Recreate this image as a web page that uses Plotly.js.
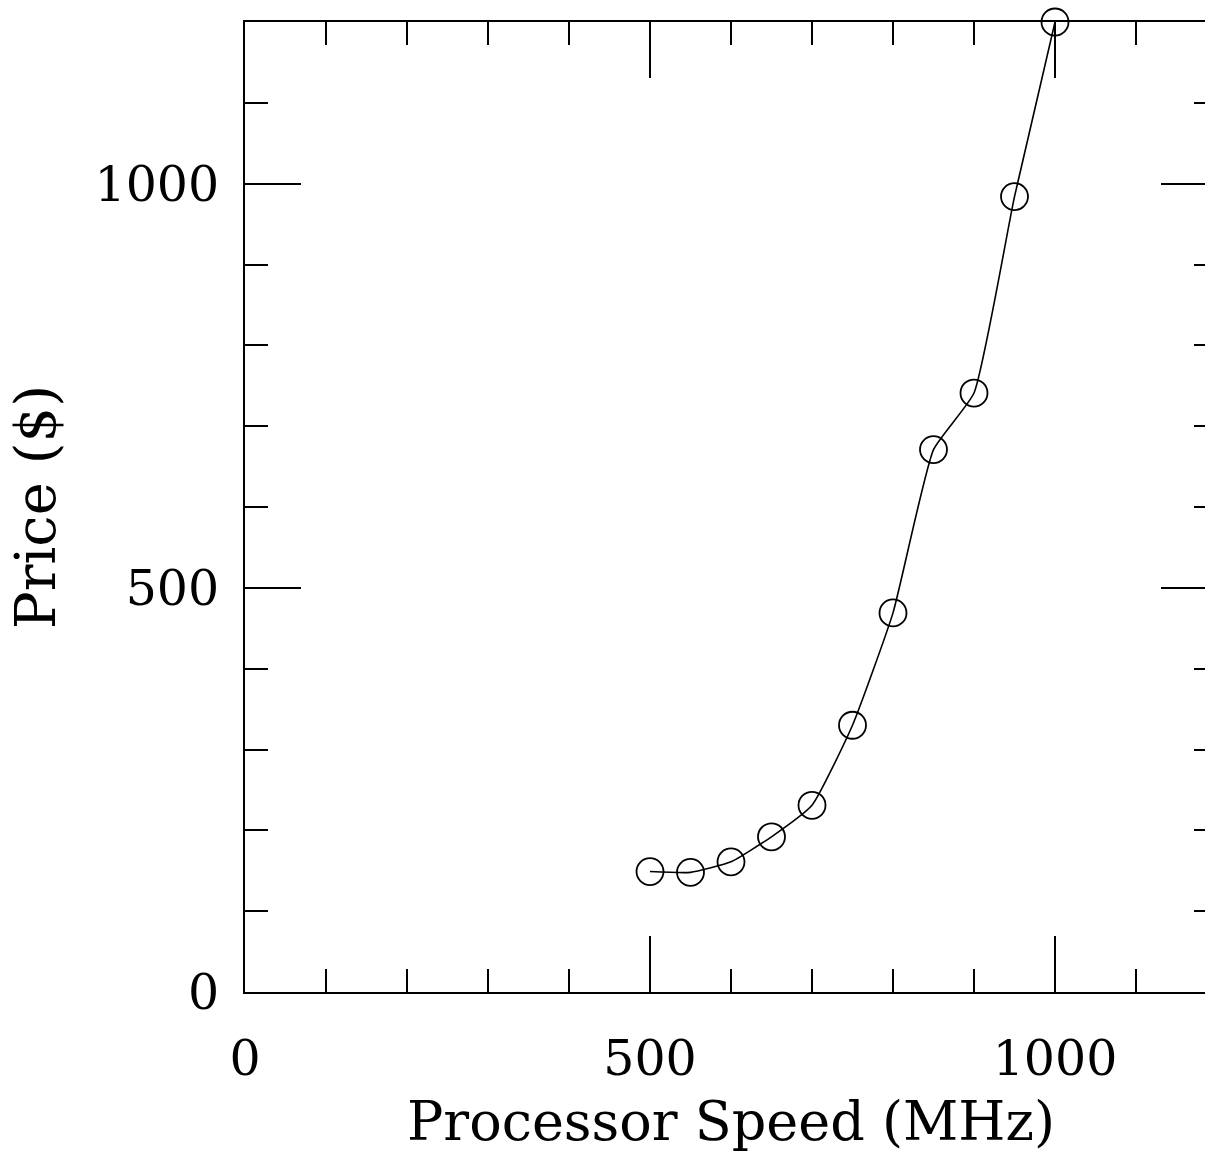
<!DOCTYPE html>
<html>
<head>
<meta charset="utf-8">
<script src="https://cdn.plot.ly/plotly-3.0.1.min.js"></script>
<style>
  html, body { margin: 0; padding: 0; overflow: hidden; background: #fff; }
  #chart { width: 1232px; height: 1153px; }
</style>
</head>
<body>
<div id="chart"></div>
<script>
// Processor speed (MHz) and price ($)
const speedMHz = [500, 550, 600, 650, 700, 750, 800, 850, 900, 950, 1000];
const priceUSD = [149, 148, 161, 192, 231, 330, 469, 671, 741, 984, 1200];

const xTickVals = [0, 500, 1000];
const xTickText = ['0', '500', '1000'];
const yTickVals = [0, 500, 1000];
const yTickText = ['0', '500', '1000'];

const FONT = 'DejaVu Serif, Liberation Serif, serif';

const trace = {
  x: speedMHz,
  y: priceUSD,
  type: 'scatter',
  mode: 'lines+markers',
  line: { color: '#000', width: 1.6, shape: 'spline', smoothing: 0.45 },
  marker: { symbol: 'circle-open', size: 27, color: '#000', line: { color: '#000', width: 1.8 } },
  cliponaxis: false,
  hoverinfo: 'skip'
};

const axisCommon = {
  showgrid: false,
  zeroline: false,
  showline: true,
  linecolor: '#000',
  linewidth: 2,
  mirror: 'ticks',
  ticks: 'inside',
  ticklen: 56,
  tickwidth: 2,
  tickcolor: '#000',
  tickfont: { family: FONT, size: 49, color: '#000' },
  minor: { dtick: 100, ticks: 'inside', ticklen: 23, tickwidth: 2, tickcolor: '#000' },
  fixedrange: true
};

const layout = {
  width: 1232,
  height: 1153,
  margin: { l: 245, r: 15, t: 22, b: 161 },
  paper_bgcolor: '#fff',
  plot_bgcolor: '#fff',
  showlegend: false,
  xaxis: Object.assign({}, axisCommon, {
    range: [0, 1200],
    tickmode: 'array',
    tickvals: xTickVals,
    ticktext: xTickText,
    ticklabelstandoff: 22,
    title: { text: 'Processor Speed (MHz)', font: { family: FONT, size: 54, color: '#000' }, standoff: 30 }
  }),
  yaxis: Object.assign({}, axisCommon, {
    range: [0, 1200],
    tickmode: 'array',
    tickvals: yTickVals,
    ticktext: yTickText,
    ticklabelstandoff: 14,
    title: { text: 'Price ($)', font: { family: FONT, size: 56, color: '#000' }, standoff: 21 }
  })
};

Plotly.newPlot('chart', [trace], layout, { displayModeBar: false, staticPlot: true });
</script>
</body>
</html>
